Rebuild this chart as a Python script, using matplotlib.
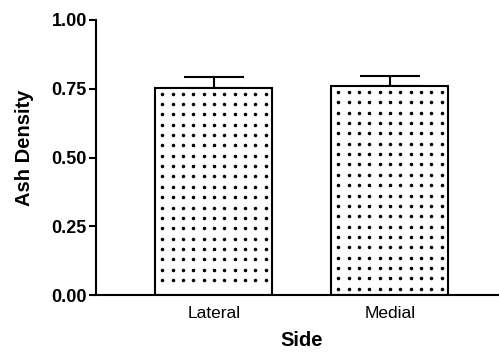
import matplotlib
matplotlib.use("Agg")
import matplotlib.pyplot as plt
import numpy as np

categories = ["Lateral", "Medial"]
means = [0.754, 0.760]
errors = [0.037, 0.036]
yticks = [0.00, 0.25, 0.50, 0.75, 1.00]
ytick_labels = ["0.00", "0.25", "0.50", "0.75", "1.00"]

plt.rcParams['font.family'] = ['Liberation Sans', 'DejaVu Sans']

W, H, DPI = 499, 352, 100
fig = plt.figure(figsize=(W / DPI, H / DPI), dpi=DPI)
ax = fig.add_axes([96 / W, 1 - 295 / H, (498 - 96) / W, (295 - 20) / H])

x = np.arange(1, len(categories) + 1)
width = 0.665
ax.bar(x, means, width=width, color='white', edgecolor='black', linewidth=1.5, zorder=2)
ax.errorbar(x, means, yerr=[np.zeros(len(errors)), errors], fmt='none', ecolor='black',
            elinewidth=1.5, capsize=21.5, capthick=1.5, zorder=1)

ax.set_xlim(0.33, 2.614)
ax.set_ylim(0, 1.0)

# dotted fill pattern inside bars
px_x = ax.transData.transform((1, 0))[0] - ax.transData.transform((0, 0))[0]
px_y = ax.transData.transform((0, 1))[1] - ax.transData.transform((0, 0))[1]
sp = 10.35
for xi, m in zip(x, means):
    ncol = int((width * px_x - 12) // sp) + 1
    span = (ncol - 1) * sp / px_x
    cols = np.linspace(xi - span / 2, xi + span / 2, ncol)
    rows = []
    yy = m - 6 / px_y
    while yy > 6 / px_y:
        rows.append(yy)
        yy -= sp / px_y
    gx, gy = np.meshgrid(cols, rows)
    ax.scatter(gx.ravel(), gy.ravel(), s=6.5, marker='o', color='black', linewidths=0, zorder=3)

ax.set_yticks(yticks)
ax.set_yticklabels(ytick_labels, fontsize=13, fontweight='bold')
ax.set_xticks(x)
ax.set_xticklabels(categories, fontsize=12.5)
ax.tick_params(axis='y', direction='out', length=5, width=1.5, pad=1.5)
ax.tick_params(axis='x', length=0, pad=8)

for s in ['top', 'right']:
    ax.spines[s].set_visible(False)
ax.spines['left'].set_linewidth(1.5)
ax.spines['bottom'].set_linewidth(1.5)

ax.set_ylabel("Ash Density", fontsize=14.5, fontweight='bold')
ax.yaxis.set_label_coords(-72 / (498 - 96), (295 - 148) / (295 - 20))
ax.set_xlabel("Side", fontsize=14.5, fontweight='bold')
ax.xaxis.set_label_coords((302 - 96) / (498 - 96), -(341 - 295) / (295 - 20))
ax.xaxis.label.set_va('center')
ax.yaxis.label.set_va('center')

fig.savefig("out.png", dpi=DPI)
